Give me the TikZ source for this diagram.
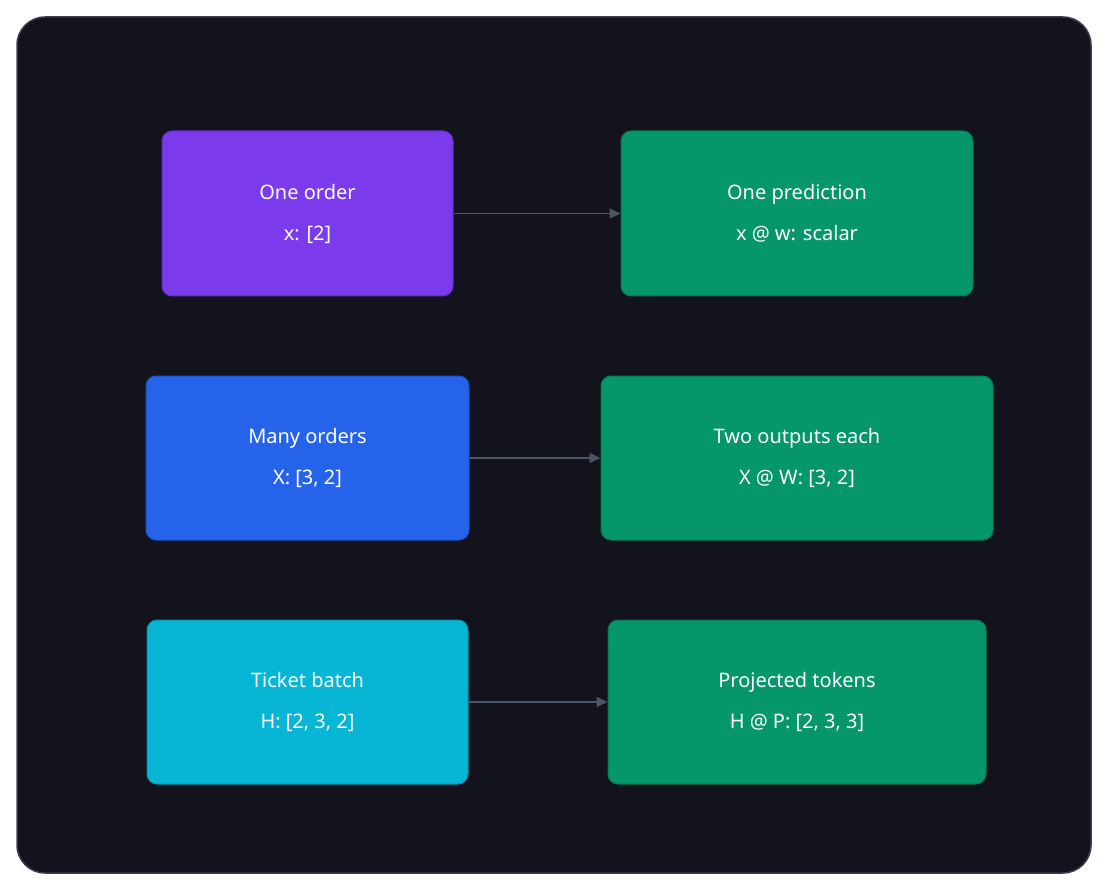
\documentclass[tikz,border=0pt]{standalone}
\usepackage{fontspec}
\setmainfont{Noto Sans}
\usetikzlibrary{arrows.meta}
\definecolor{bgdark}{HTML}{12131C}
\definecolor{frame}{HTML}{3A3D4A}
\definecolor{cpurple}{HTML}{7C3AED}
\definecolor{cblue}{HTML}{2563EB}
\definecolor{ccyan}{HTML}{06B6D4}
\definecolor{cgreen}{HTML}{059669}
\definecolor{arrowc}{HTML}{4B5563}
\tikzset{
  box/.style={rounded corners=10pt, draw=#1!80!black, line width=1pt, fill=#1, text=white,
    font=\fontsize{20}{41}\selectfont, align=center, inner sep=0pt},
  conn/.style={draw=arrowc, line width=1.5pt, -{Triangle[length=11pt,width=10pt]}}
}
\begin{document}
\begin{tikzpicture}[x=1pt,y=-1pt]
\useasboundingbox (0,0) rectangle (1108,890);
\fill[white] (0,0) rectangle (1108,890);
\draw[frame, fill=bgdark, line width=1.5pt, rounded corners=28pt] (17,17) rectangle (1091,873);
\newcommand\mybox[7]{%
  \node[box=#6, minimum width=#3pt-#2pt, minimum height=#5pt-#4pt] (#1) at ({(#2+#3)/2},{(#4+#5)/2}) {#7};}
\mybox{a}{162}{453}{131}{296}{cpurple}{One order\\x: [2]}
\mybox{b}{621}{973}{131}{296}{cgreen}{One prediction\\x @ w: scalar}
\mybox{c}{146}{469}{376}{540}{cblue}{Many orders\\X: [3, 2]}
\mybox{d}{601}{993}{376}{540}{cgreen}{Two outputs each\\X @ W: [3, 2]}
\mybox{e}{147}{468}{620}{784}{ccyan}{Ticket batch\\H: [2, 3, 2]}
\mybox{f}{608}{986}{620}{784}{cgreen}{Projected tokens\\H @ P: [2, 3, 3]}
\draw[conn] (a) -- (b);
\draw[conn] (c) -- (d);
\draw[conn] (e) -- (f);
\end{tikzpicture}
\end{document}
